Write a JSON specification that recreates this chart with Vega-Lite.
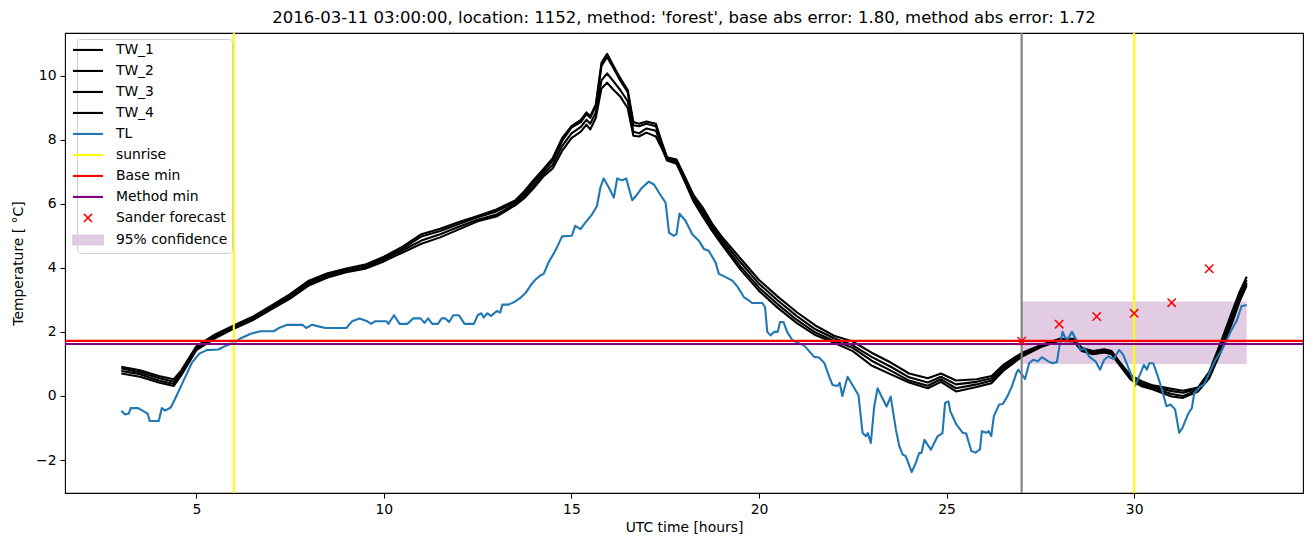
{
  "$schema": "https://vega.github.io/schema/vega-lite/v6.json",
  "autosize": {"type": "none"},
  "padding": {"left": 65, "top": 33, "right": 10, "bottom": 54},
  "width": 1238,
  "height": 460,
  "background": "white",
  "title": {"text": "2016-03-11 03:00:00, location: 1152, method: 'forest', base abs error: 1.80, method abs error: 1.72", "font": "DejaVu Sans", "fontSize": 16.5, "fontWeight": "normal", "color": "black", "anchor": "middle", "offset": 5},
  "config": {
    "view": {"stroke": "black", "strokeWidth": 1.1},
    "axis": {"grid": false, "domain": false, "tickColor": "black", "tickSize": 5, "tickWidth": 1.1, "labelFont": "DejaVu Sans", "labelFontSize": 13.9, "labelColor": "black", "labelPadding": 4, "titleFont": "DejaVu Sans", "titleFontSize": 13.9, "titleFontWeight": "normal", "titleColor": "black"}
  },
  "datasets": {
    "tw": [
      {"series":"TW_1","x":3.0,"y":0.91},{"series":"TW_1","x":3.5,"y":0.80},{"series":"TW_1","x":4.0,"y":0.62},{"series":"TW_1","x":4.4,"y":0.52},{"series":"TW_1","x":4.6,"y":0.80},{"series":"TW_1","x":5.0,"y":1.55},{"series":"TW_1","x":5.5,"y":1.92},{"series":"TW_1","x":6.0,"y":2.20},{"series":"TW_1","x":6.5,"y":2.47},{"series":"TW_1","x":7.0,"y":2.82},{"series":"TW_1","x":7.5,"y":3.18},{"series":"TW_1","x":8.0,"y":3.60},{"series":"TW_1","x":8.5,"y":3.83},{"series":"TW_1","x":9.0,"y":3.98},{"series":"TW_1","x":9.5,"y":4.10},{"series":"TW_1","x":10.0,"y":4.35},{"series":"TW_1","x":10.5,"y":4.66},{"series":"TW_1","x":11.0,"y":5.05},{"series":"TW_1","x":11.5,"y":5.22},{"series":"TW_1","x":12.0,"y":5.43},{"series":"TW_1","x":12.5,"y":5.62},{"series":"TW_1","x":13.0,"y":5.82},{"series":"TW_1","x":13.5,"y":6.10},{"series":"TW_1","x":13.75,"y":6.40},{"series":"TW_1","x":14.0,"y":6.75},{"series":"TW_1","x":14.25,"y":7.08},{"series":"TW_1","x":14.5,"y":7.42},{"series":"TW_1","x":14.75,"y":8.05},{"series":"TW_1","x":15.0,"y":8.42},{"series":"TW_1","x":15.25,"y":8.62},{"series":"TW_1","x":15.4,"y":8.85},{"series":"TW_1","x":15.5,"y":8.73},{"series":"TW_1","x":15.65,"y":9.10},{"series":"TW_1","x":15.8,"y":10.40},{"series":"TW_1","x":15.95,"y":10.68},{"series":"TW_1","x":16.1,"y":10.35},{"series":"TW_1","x":16.3,"y":9.92},{"series":"TW_1","x":16.5,"y":9.55},{"series":"TW_1","x":16.65,"y":8.55},{"series":"TW_1","x":16.8,"y":8.50},{"series":"TW_1","x":17.0,"y":8.57},{"series":"TW_1","x":17.25,"y":8.50},{"series":"TW_1","x":17.4,"y":7.95},{"series":"TW_1","x":17.55,"y":7.45},{"series":"TW_1","x":17.8,"y":7.38},{"series":"TW_1","x":18.0,"y":6.90},{"series":"TW_1","x":18.25,"y":6.28},{"series":"TW_1","x":18.5,"y":5.88},{"series":"TW_1","x":18.75,"y":5.38},{"series":"TW_1","x":19.0,"y":4.98},{"series":"TW_1","x":19.5,"y":4.30},{"series":"TW_1","x":20.0,"y":3.62},{"series":"TW_1","x":20.5,"y":3.10},{"series":"TW_1","x":21.0,"y":2.62},{"series":"TW_1","x":21.5,"y":2.20},{"series":"TW_1","x":22.0,"y":1.88},{"series":"TW_1","x":22.5,"y":1.70},{"series":"TW_1","x":23.0,"y":1.35},{"series":"TW_1","x":23.5,"y":1.05},{"series":"TW_1","x":24.0,"y":0.70},{"series":"TW_1","x":24.5,"y":0.55},{"series":"TW_1","x":24.85,"y":0.70},{"series":"TW_1","x":25.25,"y":0.48},{"series":"TW_1","x":25.8,"y":0.52},{"series":"TW_1","x":26.2,"y":0.62},{"series":"TW_1","x":26.5,"y":0.96},{"series":"TW_1","x":27.0,"y":1.34},{"series":"TW_1","x":27.5,"y":1.58},{"series":"TW_1","x":28.0,"y":1.78},{"series":"TW_1","x":28.4,"y":1.78},{"series":"TW_1","x":28.6,"y":1.50},{"series":"TW_1","x":28.9,"y":1.40},{"series":"TW_1","x":29.2,"y":1.46},{"series":"TW_1","x":29.4,"y":1.40},{"series":"TW_1","x":29.6,"y":1.08},{"series":"TW_1","x":29.9,"y":0.65},{"series":"TW_1","x":30.2,"y":0.46},{"series":"TW_1","x":30.5,"y":0.33},{"series":"TW_1","x":31.0,"y":0.22},{"series":"TW_1","x":31.3,"y":0.16},{"series":"TW_1","x":31.7,"y":0.26},{"series":"TW_1","x":32.0,"y":0.75},{"series":"TW_1","x":32.3,"y":1.65},{"series":"TW_1","x":32.6,"y":2.60},{"series":"TW_1","x":32.8,"y":3.22},{"series":"TW_1","x":33.0,"y":3.72},
      {"series":"TW_2","x":3.0,"y":0.86},{"series":"TW_2","x":3.5,"y":0.74},{"series":"TW_2","x":4.0,"y":0.56},{"series":"TW_2","x":4.4,"y":0.44},{"series":"TW_2","x":4.6,"y":0.75},{"series":"TW_2","x":5.0,"y":1.50},{"series":"TW_2","x":5.5,"y":1.88},{"series":"TW_2","x":6.0,"y":2.17},{"series":"TW_2","x":6.5,"y":2.44},{"series":"TW_2","x":7.0,"y":2.78},{"series":"TW_2","x":7.5,"y":3.14},{"series":"TW_2","x":8.0,"y":3.55},{"series":"TW_2","x":8.5,"y":3.80},{"series":"TW_2","x":9.0,"y":3.95},{"series":"TW_2","x":9.5,"y":4.07},{"series":"TW_2","x":10.0,"y":4.30},{"series":"TW_2","x":10.5,"y":4.60},{"series":"TW_2","x":11.0,"y":4.98},{"series":"TW_2","x":11.5,"y":5.15},{"series":"TW_2","x":12.0,"y":5.37},{"series":"TW_2","x":12.5,"y":5.58},{"series":"TW_2","x":13.0,"y":5.76},{"series":"TW_2","x":13.5,"y":6.05},{"series":"TW_2","x":13.75,"y":6.33},{"series":"TW_2","x":14.0,"y":6.68},{"series":"TW_2","x":14.25,"y":7.00},{"series":"TW_2","x":14.5,"y":7.35},{"series":"TW_2","x":14.75,"y":7.95},{"series":"TW_2","x":15.0,"y":8.38},{"series":"TW_2","x":15.25,"y":8.55},{"series":"TW_2","x":15.4,"y":8.80},{"series":"TW_2","x":15.5,"y":8.68},{"series":"TW_2","x":15.65,"y":9.05},{"series":"TW_2","x":15.8,"y":10.30},{"series":"TW_2","x":15.95,"y":10.58},{"series":"TW_2","x":16.1,"y":10.28},{"series":"TW_2","x":16.3,"y":9.85},{"series":"TW_2","x":16.5,"y":9.48},{"series":"TW_2","x":16.65,"y":8.45},{"series":"TW_2","x":16.8,"y":8.42},{"series":"TW_2","x":17.0,"y":8.50},{"series":"TW_2","x":17.25,"y":8.42},{"series":"TW_2","x":17.4,"y":7.90},{"series":"TW_2","x":17.55,"y":7.42},{"series":"TW_2","x":17.8,"y":7.35},{"series":"TW_2","x":18.0,"y":6.85},{"series":"TW_2","x":18.25,"y":6.22},{"series":"TW_2","x":18.5,"y":5.80},{"series":"TW_2","x":18.75,"y":5.30},{"series":"TW_2","x":19.0,"y":4.90},{"series":"TW_2","x":19.5,"y":4.18},{"series":"TW_2","x":20.0,"y":3.50},{"series":"TW_2","x":20.5,"y":2.98},{"series":"TW_2","x":21.0,"y":2.50},{"series":"TW_2","x":21.5,"y":2.08},{"series":"TW_2","x":22.0,"y":1.80},{"series":"TW_2","x":22.5,"y":1.58},{"series":"TW_2","x":23.0,"y":1.22},{"series":"TW_2","x":23.5,"y":0.92},{"series":"TW_2","x":24.0,"y":0.58},{"series":"TW_2","x":24.5,"y":0.42},{"series":"TW_2","x":24.85,"y":0.60},{"series":"TW_2","x":25.25,"y":0.36},{"series":"TW_2","x":25.8,"y":0.44},{"series":"TW_2","x":26.2,"y":0.55},{"series":"TW_2","x":26.5,"y":0.90},{"series":"TW_2","x":27.0,"y":1.30},{"series":"TW_2","x":27.5,"y":1.56},{"series":"TW_2","x":28.0,"y":1.76},{"series":"TW_2","x":28.4,"y":1.76},{"series":"TW_2","x":28.6,"y":1.47},{"series":"TW_2","x":28.9,"y":1.37},{"series":"TW_2","x":29.2,"y":1.43},{"series":"TW_2","x":29.4,"y":1.36},{"series":"TW_2","x":29.6,"y":1.05},{"series":"TW_2","x":29.9,"y":0.60},{"series":"TW_2","x":30.2,"y":0.40},{"series":"TW_2","x":30.5,"y":0.28},{"series":"TW_2","x":31.0,"y":0.15},{"series":"TW_2","x":31.3,"y":0.10},{"series":"TW_2","x":31.7,"y":0.22},{"series":"TW_2","x":32.0,"y":0.68},{"series":"TW_2","x":32.3,"y":1.55},{"series":"TW_2","x":32.6,"y":2.50},{"series":"TW_2","x":32.8,"y":3.12},{"series":"TW_2","x":33.0,"y":3.62},
      {"series":"TW_3","x":3.0,"y":0.78},{"series":"TW_3","x":3.5,"y":0.68},{"series":"TW_3","x":4.0,"y":0.48},{"series":"TW_3","x":4.4,"y":0.37},{"series":"TW_3","x":4.6,"y":0.70},{"series":"TW_3","x":5.0,"y":1.47},{"series":"TW_3","x":5.5,"y":1.85},{"series":"TW_3","x":6.0,"y":2.13},{"series":"TW_3","x":6.5,"y":2.40},{"series":"TW_3","x":7.0,"y":2.74},{"series":"TW_3","x":7.5,"y":3.08},{"series":"TW_3","x":8.0,"y":3.50},{"series":"TW_3","x":8.5,"y":3.74},{"series":"TW_3","x":9.0,"y":3.90},{"series":"TW_3","x":9.5,"y":4.02},{"series":"TW_3","x":10.0,"y":4.26},{"series":"TW_3","x":10.5,"y":4.55},{"series":"TW_3","x":11.0,"y":4.85},{"series":"TW_3","x":11.5,"y":5.05},{"series":"TW_3","x":12.0,"y":5.28},{"series":"TW_3","x":12.5,"y":5.50},{"series":"TW_3","x":13.0,"y":5.66},{"series":"TW_3","x":13.5,"y":6.00},{"series":"TW_3","x":13.75,"y":6.25},{"series":"TW_3","x":14.0,"y":6.58},{"series":"TW_3","x":14.25,"y":6.92},{"series":"TW_3","x":14.5,"y":7.22},{"series":"TW_3","x":14.75,"y":7.80},{"series":"TW_3","x":15.0,"y":8.20},{"series":"TW_3","x":15.25,"y":8.40},{"series":"TW_3","x":15.4,"y":8.62},{"series":"TW_3","x":15.5,"y":8.50},{"series":"TW_3","x":15.65,"y":8.85},{"series":"TW_3","x":15.8,"y":9.85},{"series":"TW_3","x":15.95,"y":10.07},{"series":"TW_3","x":16.1,"y":9.85},{"series":"TW_3","x":16.3,"y":9.55},{"series":"TW_3","x":16.5,"y":9.20},{"series":"TW_3","x":16.65,"y":8.25},{"series":"TW_3","x":16.8,"y":8.20},{"series":"TW_3","x":17.0,"y":8.35},{"series":"TW_3","x":17.25,"y":8.28},{"series":"TW_3","x":17.4,"y":7.82},{"series":"TW_3","x":17.55,"y":7.38},{"series":"TW_3","x":17.8,"y":7.30},{"series":"TW_3","x":18.0,"y":6.80},{"series":"TW_3","x":18.25,"y":6.15},{"series":"TW_3","x":18.5,"y":5.70},{"series":"TW_3","x":18.75,"y":5.22},{"series":"TW_3","x":19.0,"y":4.82},{"series":"TW_3","x":19.5,"y":4.05},{"series":"TW_3","x":20.0,"y":3.38},{"series":"TW_3","x":20.5,"y":2.86},{"series":"TW_3","x":21.0,"y":2.38},{"series":"TW_3","x":21.5,"y":1.98},{"series":"TW_3","x":22.0,"y":1.72},{"series":"TW_3","x":22.5,"y":1.50},{"series":"TW_3","x":23.0,"y":1.10},{"series":"TW_3","x":23.5,"y":0.80},{"series":"TW_3","x":24.0,"y":0.48},{"series":"TW_3","x":24.5,"y":0.32},{"series":"TW_3","x":24.85,"y":0.52},{"series":"TW_3","x":25.25,"y":0.24},{"series":"TW_3","x":25.8,"y":0.36},{"series":"TW_3","x":26.2,"y":0.48},{"series":"TW_3","x":26.5,"y":0.83},{"series":"TW_3","x":27.0,"y":1.26},{"series":"TW_3","x":27.5,"y":1.54},{"series":"TW_3","x":28.0,"y":1.74},{"series":"TW_3","x":28.4,"y":1.72},{"series":"TW_3","x":28.6,"y":1.44},{"series":"TW_3","x":28.9,"y":1.34},{"series":"TW_3","x":29.2,"y":1.40},{"series":"TW_3","x":29.4,"y":1.33},{"series":"TW_3","x":29.6,"y":1.02},{"series":"TW_3","x":29.9,"y":0.56},{"series":"TW_3","x":30.2,"y":0.35},{"series":"TW_3","x":30.5,"y":0.24},{"series":"TW_3","x":31.0,"y":0.06},{"series":"TW_3","x":31.3,"y":0.00},{"series":"TW_3","x":31.7,"y":0.18},{"series":"TW_3","x":32.0,"y":0.62},{"series":"TW_3","x":32.3,"y":1.45},{"series":"TW_3","x":32.6,"y":2.35},{"series":"TW_3","x":32.8,"y":3.00},{"series":"TW_3","x":33.0,"y":3.52},
      {"series":"TW_4","x":3.0,"y":0.70},{"series":"TW_4","x":3.5,"y":0.60},{"series":"TW_4","x":4.0,"y":0.42},{"series":"TW_4","x":4.4,"y":0.31},{"series":"TW_4","x":4.6,"y":0.65},{"series":"TW_4","x":5.0,"y":1.43},{"series":"TW_4","x":5.5,"y":1.80},{"series":"TW_4","x":6.0,"y":2.10},{"series":"TW_4","x":6.5,"y":2.36},{"series":"TW_4","x":7.0,"y":2.70},{"series":"TW_4","x":7.5,"y":3.04},{"series":"TW_4","x":8.0,"y":3.45},{"series":"TW_4","x":8.5,"y":3.70},{"series":"TW_4","x":9.0,"y":3.86},{"series":"TW_4","x":9.5,"y":3.97},{"series":"TW_4","x":10.0,"y":4.20},{"series":"TW_4","x":10.5,"y":4.48},{"series":"TW_4","x":11.0,"y":4.75},{"series":"TW_4","x":11.5,"y":4.95},{"series":"TW_4","x":12.0,"y":5.20},{"series":"TW_4","x":12.5,"y":5.45},{"series":"TW_4","x":13.0,"y":5.60},{"series":"TW_4","x":13.5,"y":5.95},{"series":"TW_4","x":13.75,"y":6.18},{"series":"TW_4","x":14.0,"y":6.50},{"series":"TW_4","x":14.25,"y":6.85},{"series":"TW_4","x":14.5,"y":7.10},{"series":"TW_4","x":14.75,"y":7.65},{"series":"TW_4","x":15.0,"y":8.05},{"series":"TW_4","x":15.25,"y":8.25},{"series":"TW_4","x":15.4,"y":8.47},{"series":"TW_4","x":15.5,"y":8.32},{"series":"TW_4","x":15.65,"y":8.68},{"series":"TW_4","x":15.8,"y":9.60},{"series":"TW_4","x":15.95,"y":9.78},{"series":"TW_4","x":16.1,"y":9.58},{"series":"TW_4","x":16.3,"y":9.35},{"series":"TW_4","x":16.5,"y":8.98},{"series":"TW_4","x":16.65,"y":8.12},{"series":"TW_4","x":16.8,"y":8.10},{"series":"TW_4","x":17.0,"y":8.22},{"series":"TW_4","x":17.25,"y":8.10},{"series":"TW_4","x":17.4,"y":7.75},{"series":"TW_4","x":17.55,"y":7.35},{"series":"TW_4","x":17.8,"y":7.25},{"series":"TW_4","x":18.0,"y":6.75},{"series":"TW_4","x":18.25,"y":6.08},{"series":"TW_4","x":18.5,"y":5.60},{"series":"TW_4","x":18.75,"y":5.15},{"series":"TW_4","x":19.0,"y":4.74},{"series":"TW_4","x":19.5,"y":3.95},{"series":"TW_4","x":20.0,"y":3.28},{"series":"TW_4","x":20.5,"y":2.75},{"series":"TW_4","x":21.0,"y":2.28},{"series":"TW_4","x":21.5,"y":1.90},{"series":"TW_4","x":22.0,"y":1.66},{"series":"TW_4","x":22.5,"y":1.40},{"series":"TW_4","x":23.0,"y":0.95},{"series":"TW_4","x":23.5,"y":0.68},{"series":"TW_4","x":24.0,"y":0.42},{"series":"TW_4","x":24.5,"y":0.24},{"series":"TW_4","x":24.85,"y":0.44},{"series":"TW_4","x":25.25,"y":0.14},{"series":"TW_4","x":25.8,"y":0.28},{"series":"TW_4","x":26.2,"y":0.40},{"series":"TW_4","x":26.5,"y":0.77},{"series":"TW_4","x":27.0,"y":1.22},{"series":"TW_4","x":27.5,"y":1.52},{"series":"TW_4","x":28.0,"y":1.72},{"series":"TW_4","x":28.4,"y":1.70},{"series":"TW_4","x":28.6,"y":1.40},{"series":"TW_4","x":28.9,"y":1.30},{"series":"TW_4","x":29.2,"y":1.36},{"series":"TW_4","x":29.4,"y":1.30},{"series":"TW_4","x":29.6,"y":0.98},{"series":"TW_4","x":29.9,"y":0.52},{"series":"TW_4","x":30.2,"y":0.30},{"series":"TW_4","x":30.5,"y":0.20},{"series":"TW_4","x":31.0,"y":-0.02},{"series":"TW_4","x":31.3,"y":-0.06},{"series":"TW_4","x":31.7,"y":0.14},{"series":"TW_4","x":32.0,"y":0.55},{"series":"TW_4","x":32.3,"y":1.35},{"series":"TW_4","x":32.6,"y":2.25},{"series":"TW_4","x":32.8,"y":2.92},{"series":"TW_4","x":33.0,"y":3.45}
    ],
    "tl": [
      {"series":"TL","x":3.0,"y":-0.46},{"series":"TL","x":3.1,"y":-0.58},{"series":"TL","x":3.2,"y":-0.55},{"series":"TL","x":3.25,"y":-0.38},{"series":"TL","x":3.45,"y":-0.38},{"series":"TL","x":3.6,"y":-0.48},{"series":"TL","x":3.7,"y":-0.55},{"series":"TL","x":3.76,"y":-0.78},{"series":"TL","x":4.0,"y":-0.78},{"series":"TL","x":4.08,"y":-0.38},{"series":"TL","x":4.17,"y":-0.46},{"series":"TL","x":4.32,"y":-0.36},{"series":"TL","x":4.47,"y":0.0},{"series":"TL","x":4.67,"y":0.5},{"series":"TL","x":4.88,"y":1.03},{"series":"TL","x":5.08,"y":1.32},{"series":"TL","x":5.28,"y":1.43},{"series":"TL","x":5.59,"y":1.45},{"series":"TL","x":5.79,"y":1.57},{"series":"TL","x":6.0,"y":1.66},{"series":"TL","x":6.2,"y":1.81},{"series":"TL","x":6.45,"y":1.94},{"series":"TL","x":6.71,"y":2.02},{"series":"TL","x":7.06,"y":2.02},{"series":"TL","x":7.2,"y":2.12},{"series":"TL","x":7.42,"y":2.22},{"series":"TL","x":7.83,"y":2.22},{"series":"TL","x":7.93,"y":2.12},{"series":"TL","x":8.08,"y":2.22},{"series":"TL","x":8.23,"y":2.18},{"series":"TL","x":8.44,"y":2.12},{"series":"TL","x":9.0,"y":2.12},{"series":"TL","x":9.15,"y":2.33},{"series":"TL","x":9.35,"y":2.42},{"series":"TL","x":9.56,"y":2.33},{"series":"TL","x":9.66,"y":2.25},{"series":"TL","x":9.76,"y":2.33},{"series":"TL","x":10.07,"y":2.33},{"series":"TL","x":10.12,"y":2.25},{"series":"TL","x":10.27,"y":2.52},{"series":"TL","x":10.42,"y":2.25},{"series":"TL","x":10.63,"y":2.25},{"series":"TL","x":10.78,"y":2.42},{"series":"TL","x":10.98,"y":2.42},{"series":"TL","x":11.08,"y":2.28},{"series":"TL","x":11.18,"y":2.42},{"series":"TL","x":11.29,"y":2.25},{"series":"TL","x":11.44,"y":2.25},{"series":"TL","x":11.54,"y":2.42},{"series":"TL","x":11.64,"y":2.42},{"series":"TL","x":11.74,"y":2.31},{"series":"TL","x":11.85,"y":2.52},{"series":"TL","x":12.0,"y":2.52},{"series":"TL","x":12.15,"y":2.25},{"series":"TL","x":12.4,"y":2.25},{"series":"TL","x":12.5,"y":2.52},{"series":"TL","x":12.6,"y":2.58},{"series":"TL","x":12.66,"y":2.45},{"series":"TL","x":12.76,"y":2.58},{"series":"TL","x":12.86,"y":2.5},{"series":"TL","x":13.01,"y":2.65},{"series":"TL","x":13.1,"y":2.6},{"series":"TL","x":13.16,"y":2.85},{"series":"TL","x":13.32,"y":2.85},{"series":"TL","x":13.47,"y":2.93},{"series":"TL","x":13.63,"y":3.05},{"series":"TL","x":13.78,"y":3.22},{"series":"TL","x":13.93,"y":3.48},{"series":"TL","x":14.03,"y":3.62},{"series":"TL","x":14.17,"y":3.76},{"series":"TL","x":14.26,"y":3.81},{"series":"TL","x":14.39,"y":4.17},{"series":"TL","x":14.57,"y":4.53},{"series":"TL","x":14.75,"y":4.98},{"series":"TL","x":15.01,"y":5.0},{"series":"TL","x":15.1,"y":5.31},{"series":"TL","x":15.24,"y":5.21},{"series":"TL","x":15.37,"y":5.41},{"series":"TL","x":15.55,"y":5.67},{"series":"TL","x":15.68,"y":5.93},{"series":"TL","x":15.77,"y":6.5},{"series":"TL","x":15.86,"y":6.79},{"series":"TL","x":16.0,"y":6.5},{"series":"TL","x":16.13,"y":6.19},{"series":"TL","x":16.22,"y":6.79},{"series":"TL","x":16.35,"y":6.73},{"series":"TL","x":16.46,"y":6.79},{"series":"TL","x":16.62,"y":6.11},{"series":"TL","x":16.75,"y":6.29},{"series":"TL","x":16.88,"y":6.5},{"series":"TL","x":17.06,"y":6.69},{"series":"TL","x":17.2,"y":6.6},{"series":"TL","x":17.33,"y":6.35},{"series":"TL","x":17.51,"y":6.03},{"series":"TL","x":17.6,"y":5.1},{"series":"TL","x":17.73,"y":5.0},{"series":"TL","x":17.8,"y":5.05},{"series":"TL","x":17.88,"y":5.69},{"series":"TL","x":18.04,"y":5.47},{"series":"TL","x":18.22,"y":5.05},{"series":"TL","x":18.4,"y":4.84},{"series":"TL","x":18.53,"y":4.59},{"series":"TL","x":18.66,"y":4.53},{"series":"TL","x":18.84,"y":4.17},{"series":"TL","x":18.93,"y":3.81},{"series":"TL","x":19.11,"y":3.71},{"series":"TL","x":19.29,"y":3.6},{"series":"TL","x":19.42,"y":3.42},{"series":"TL","x":19.6,"y":3.08},{"series":"TL","x":19.73,"y":2.98},{"series":"TL","x":19.82,"y":2.9},{"series":"TL","x":20.09,"y":2.9},{"series":"TL","x":20.16,"y":2.77},{"series":"TL","x":20.22,"y":2.0},{"series":"TL","x":20.31,"y":1.89},{"series":"TL","x":20.4,"y":2.0},{"series":"TL","x":20.5,"y":2.0},{"series":"TL","x":20.56,"y":2.31},{"series":"TL","x":20.65,"y":2.31},{"series":"TL","x":20.75,"y":2.0},{"series":"TL","x":20.89,"y":1.74},{"series":"TL","x":21.07,"y":1.64},{"series":"TL","x":21.2,"y":1.58},{"series":"TL","x":21.47,"y":1.22},{"series":"TL","x":21.6,"y":1.2},{"series":"TL","x":21.74,"y":1.03},{"series":"TL","x":21.87,"y":0.6},{"series":"TL","x":21.96,"y":0.34},{"series":"TL","x":22.09,"y":0.31},{"series":"TL","x":22.15,"y":0.41},{"series":"TL","x":22.22,"y":0.0},{"series":"TL","x":22.36,"y":0.6},{"series":"TL","x":22.49,"y":0.34},{"series":"TL","x":22.65,"y":0.03},{"series":"TL","x":22.76,"y":-1.16},{"series":"TL","x":22.85,"y":-1.26},{"series":"TL","x":22.9,"y":-1.16},{"series":"TL","x":22.98,"y":-1.47},{"series":"TL","x":23.07,"y":-0.33},{"series":"TL","x":23.16,"y":0.24},{"series":"TL","x":23.29,"y":-0.07},{"series":"TL","x":23.4,"y":-0.33},{"series":"TL","x":23.51,"y":-0.02},{"series":"TL","x":23.65,"y":-1.06},{"series":"TL","x":23.74,"y":-1.57},{"series":"TL","x":23.83,"y":-1.83},{"series":"TL","x":23.91,"y":-1.88},{"series":"TL","x":24.07,"y":-2.38},{"series":"TL","x":24.18,"y":-2.09},{"series":"TL","x":24.27,"y":-1.78},{"series":"TL","x":24.33,"y":-1.78},{"series":"TL","x":24.41,"y":-1.37},{"series":"TL","x":24.58,"y":-1.68},{"series":"TL","x":24.76,"y":-1.26},{"series":"TL","x":24.89,"y":-1.16},{"series":"TL","x":24.96,"y":-0.22},{"series":"TL","x":25.05,"y":-0.17},{"series":"TL","x":25.1,"y":-0.48},{"series":"TL","x":25.26,"y":-0.89},{"series":"TL","x":25.43,"y":-1.15},{"series":"TL","x":25.52,"y":-1.17},{"series":"TL","x":25.66,"y":-1.72},{"series":"TL","x":25.77,"y":-1.77},{"series":"TL","x":25.89,"y":-1.67},{"series":"TL","x":25.94,"y":-1.1},{"series":"TL","x":26.06,"y":-1.15},{"series":"TL","x":26.12,"y":-1.1},{"series":"TL","x":26.19,"y":-1.25},{"series":"TL","x":26.26,"y":-0.63},{"series":"TL","x":26.4,"y":-0.27},{"series":"TL","x":26.5,"y":-0.25},{"series":"TL","x":26.63,"y":0.01},{"series":"TL","x":26.74,"y":0.3},{"series":"TL","x":26.86,"y":0.71},{"series":"TL","x":26.91,"y":0.82},{"series":"TL","x":27.0,"y":0.68},{"series":"TL","x":27.09,"y":0.53},{"series":"TL","x":27.2,"y":1.02},{"series":"TL","x":27.31,"y":1.13},{"series":"TL","x":27.43,"y":1.08},{"series":"TL","x":27.54,"y":1.21},{"series":"TL","x":27.71,"y":1.08},{"series":"TL","x":27.83,"y":1.02},{"series":"TL","x":27.94,"y":1.06},{"series":"TL","x":28.0,"y":1.5},{"series":"TL","x":28.09,"y":2.0},{"series":"TL","x":28.17,"y":1.8},{"series":"TL","x":28.23,"y":1.78},{"series":"TL","x":28.34,"y":2.0},{"series":"TL","x":28.46,"y":1.75},{"series":"TL","x":28.57,"y":1.44},{"series":"TL","x":28.68,"y":1.48},{"series":"TL","x":28.8,"y":1.23},{"series":"TL","x":28.97,"y":1.08},{"series":"TL","x":29.09,"y":0.82},{"series":"TL","x":29.2,"y":1.13},{"series":"TL","x":29.31,"y":1.23},{"series":"TL","x":29.46,"y":1.15},{"series":"TL","x":29.6,"y":1.44},{"series":"TL","x":29.71,"y":1.28},{"series":"TL","x":29.83,"y":0.92},{"series":"TL","x":29.94,"y":0.61},{"series":"TL","x":30.03,"y":0.32},{"series":"TL","x":30.17,"y":0.71},{"series":"TL","x":30.26,"y":0.97},{"series":"TL","x":30.34,"y":0.82},{"series":"TL","x":30.4,"y":1.02},{"series":"TL","x":30.51,"y":1.02},{"series":"TL","x":30.63,"y":0.61},{"series":"TL","x":30.74,"y":0.2},{"series":"TL","x":30.86,"y":-0.32},{"series":"TL","x":30.97,"y":-0.27},{"series":"TL","x":31.09,"y":-0.42},{"series":"TL","x":31.2,"y":-1.15},{"series":"TL","x":31.29,"y":-0.99},{"series":"TL","x":31.43,"y":-0.58},{"series":"TL","x":31.54,"y":-0.37},{"series":"TL","x":31.6,"y":0.09},{"series":"TL","x":31.77,"y":0.3},{"series":"TL","x":31.86,"y":0.35},{"series":"TL","x":32.0,"y":0.71},{"series":"TL","x":32.17,"y":1.13},{"series":"TL","x":32.34,"y":1.44},{"series":"TL","x":32.57,"y":2.0},{"series":"TL","x":32.74,"y":2.37},{"series":"TL","x":32.86,"y":2.8},{"series":"TL","x":33.0,"y":2.84}
    ]
  },
  "encoding": {
    "x": {"type": "quantitative", "scale": {"domain": [1.5, 34.5], "nice": false, "zero": false}, "axis": {"title": "UTC time [hours]", "values": [5, 10, 15, 20, 25, 30], "titlePadding": 5}},
    "y": {"type": "quantitative", "scale": {"domain": [-3.03, 11.33], "nice": false, "zero": false}, "axis": {"title": "Temperature [ °C]", "values": [-2, 0, 2, 4, 6, 8, 10], "titlePadding": 10}}
  },
  "layer": [
    {
      "data": {"values": [{"series": "95% confidence", "x": 27, "x2": 33, "y": 1.0, "y2": 2.95}]},
      "mark": {"type": "rect"},
      "encoding": {
        "x": {"field": "x", "type": "quantitative"},
        "x2": {"field": "x2"},
        "y": {"field": "y", "type": "quantitative"},
        "y2": {"field": "y2"},
        "color": {
          "field": "series", "type": "nominal",
          "scale": {
            "domain": ["TW_1", "TW_2", "TW_3", "TW_4", "TL", "sunrise", "Base min", "Method min", "Sander forecast", "95% confidence"],
            "range": ["#000000", "#000000", "#000000", "#000000", "#1f77b4", "#ffff00", "#ff0000", "#800080", "#ff0000", "#e2cce4"]
          },
          "legend": {
            "orient": "none", "legendX": 12, "legendY": 6, "title": null, "padding": 4, "rowPadding": 6,
            "symbolType": "stroke", "symbolSize": 900, "symbolStrokeWidth": 2.1, "symbolOpacity": 1,
            "labelFont": "DejaVu Sans", "labelFontSize": 13.9, "labelColor": "black", "labelOffset": 21, "labelLimit": 300,
            "strokeColor": "#d0d0d0", "fillColor": "rgba(255,255,255,0.8)", "cornerRadius": 3,
            "encode": {
              "symbols": {
                "update": {
                  "shape": {"signal": "datum.value === 'Sander forecast' ? 'M-0.27,-0.27L0.27,0.27M-0.27,0.27L0.27,-0.27' : (datum.value === '95% confidence' ? 'M-1,-0.3H1V0.3H-1Z' : 'stroke')"},
                  "fill": {"signal": "datum.value === '95% confidence' ? '#e2cce4' : 'transparent'"},
                  "stroke": {"signal": "datum.value === '95% confidence' ? 'transparent' : scale('color', datum.value)"},
                  "strokeWidth": {"signal": "datum.value === 'Sander forecast' ? 1.5 : 2.1"},
                  "opacity": {"value": 1}
                }
              },
              "legend": {"update": {"width": {"value": 153}}}
            }
          }
        }
      }
    },
    {
      "data": {"name": "tw"},
      "mark": {"type": "line", "strokeWidth": 2.1, "strokeJoin": "round"},
      "encoding": {
        "x": {"field": "x", "type": "quantitative"},
        "y": {"field": "y", "type": "quantitative"},
        "color": {"field": "series", "type": "nominal"}
      }
    },
    {
      "data": {"name": "tl"},
      "mark": {"type": "line", "strokeWidth": 2.1, "strokeJoin": "round"},
      "encoding": {
        "x": {"field": "x", "type": "quantitative"},
        "y": {"field": "y", "type": "quantitative"},
        "color": {"field": "series", "type": "nominal"}
      }
    },
    {
      "data": {"values": [{"x": 27}]},
      "mark": {"type": "rule", "color": "#808080", "strokeWidth": 2.1},
      "encoding": {"x": {"field": "x", "type": "quantitative"}}
    },
    {
      "data": {"values": [{"series": "sunrise", "x": 6}, {"series": "sunrise", "x": 30}]},
      "mark": {"type": "rule", "strokeWidth": 2.1},
      "encoding": {
        "x": {"field": "x", "type": "quantitative"},
        "color": {"field": "series", "type": "nominal"}
      }
    },
    {
      "data": {"values": [{"series": "Base min", "y": 1.72}, {"series": "Method min", "y": 1.62}]},
      "mark": {"type": "rule", "strokeWidth": 2.1},
      "encoding": {
        "y": {"field": "y", "type": "quantitative"},
        "color": {"field": "series", "type": "nominal"}
      }
    },
    {
      "data": {"values": [
        {"series": "Sander forecast", "x": 27, "y": 1.71},
        {"series": "Sander forecast", "x": 28, "y": 2.24},
        {"series": "Sander forecast", "x": 29, "y": 2.48},
        {"series": "Sander forecast", "x": 30, "y": 2.58},
        {"series": "Sander forecast", "x": 31, "y": 2.91},
        {"series": "Sander forecast", "x": 32, "y": 3.97}
      ]},
      "mark": {"type": "point", "shape": "M-1,-1L1,1M-1,1L1,-1", "size": 70, "filled": false, "strokeWidth": 1.5, "opacity": 1},
      "encoding": {
        "x": {"field": "x", "type": "quantitative"},
        "y": {"field": "y", "type": "quantitative"},
        "color": {"field": "series", "type": "nominal"}
      }
    }
  ]
}
